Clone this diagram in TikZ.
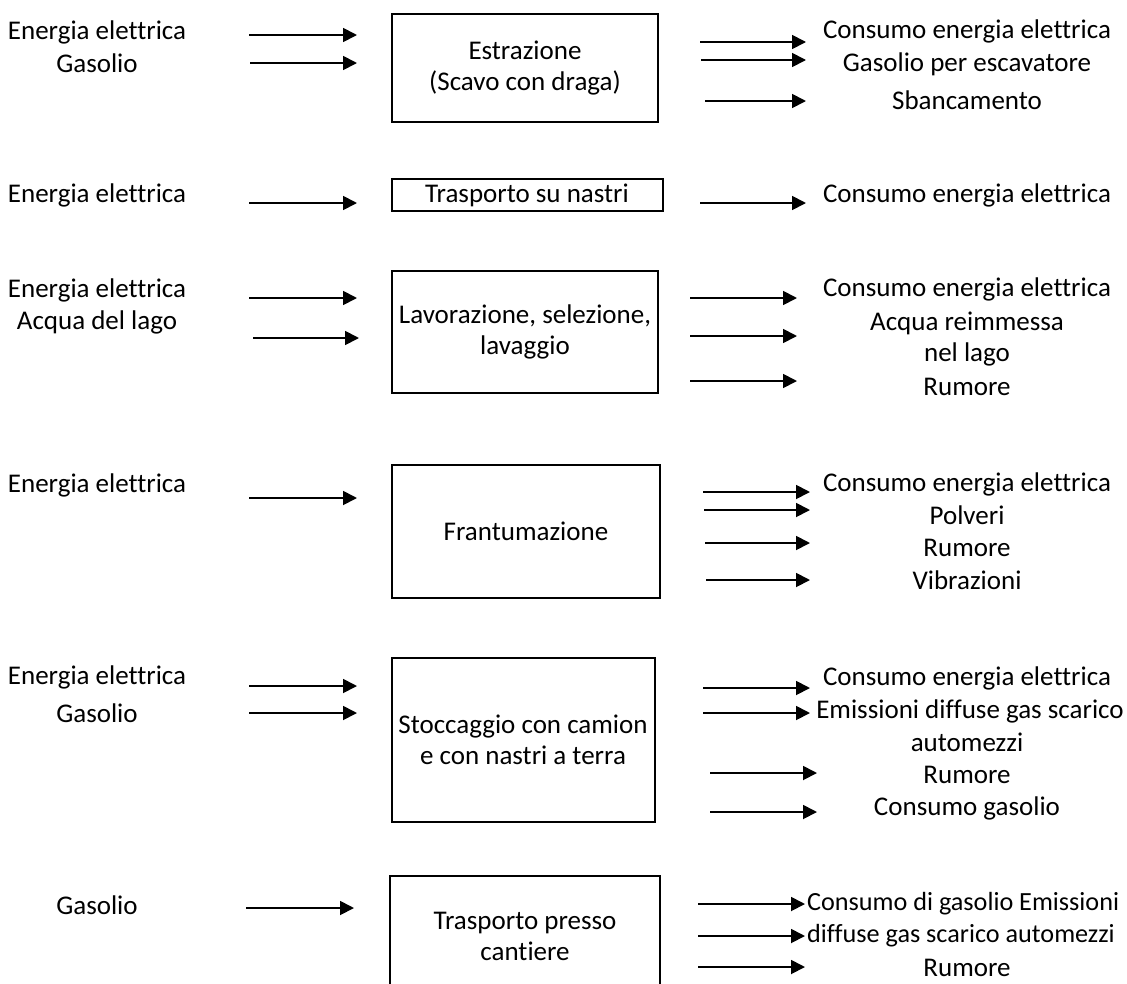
\documentclass[tikz,border=0pt]{standalone}
\usepackage{fontspec}
\setmainfont{Carlito}[Ligatures=NoCommon]
\usetikzlibrary{arrows.meta}
\tikzset{
  box/.style={draw, line width=2pt, align=center, inner sep=0pt},
  lbl/.style={inner sep=0pt},
  flow/.style={line width=1.8pt, -{Triangle[length=14pt,width=14pt]}}
}
\begin{document}
\begin{tikzpicture}[x=1pt,y=-1pt,font=\fontsize{27}{31}\selectfont]
    \useasboundingbox (0,0) rectangle (1127,983);
    \clip (0,0) rectangle (1127,983);

    % Estrazione
    \node[lbl] (en1) at (97,32) {Energia elettrica};
    \node[lbl] (ga1) at (97,63) {Gasolio};
    \node[box, minimum width=266pt, minimum height=108pt] (estr) at (525,68) {Estrazione\\(Scavo con draga)};
    \node[lbl] (ce1) at (967,31) {Consumo energia elettrica};
    \node[lbl] (ge1) at (967,64) {Gasolio per escavatore};
    \node[lbl] (sb1) at (967,100) {Sbancamento};
    \foreach \y/\a/\b in {35/249/357, 63/250/357, 42/700/806, 60/701/806, 101/705/806}
    \draw[flow] (\a,\y) -- (\b,\y);

    % Trasporto su nastri
    \node[lbl] (en2) at (97,195) {Energia elettrica};
    \node[box, minimum width=271pt, minimum height=32pt] (nastri) at (527,195) {Trasporto su nastri};
    \node[lbl] (ce2) at (967,195) {Consumo energia elettrica};
    \foreach \y/\a/\b in {203/249/357, 203/700/806}
    \draw[flow] (\a,\y) -- (\b,\y);

    % Lavorazione
    \node[lbl] (en3) at (97,290) {Energia elettrica};
    \node[lbl] (ac3) at (97,322) {Acqua del lago};
    \node[box, minimum width=266pt, minimum height=122pt] (lav) at (525,332) {Lavorazione, selezione,\\lavaggio};
    \node[lbl] (ce3) at (967,289) {Consumo energia elettrica};
    \node[lbl] (ar3) at (967,323) {Acqua reimmessa};
    \node[lbl] (nl3) at (967,354) {nel lago};
    \node[lbl] (ru3) at (967,387) {Rumore};
    \foreach \y/\a/\b in {298/249/357, 338/253/359, 298/690/797, 336/690/797, 381/690/797}
    \draw[flow] (\a,\y) -- (\b,\y);

    % Frantumazione
    \node[lbl] (en4) at (97,485) {Energia elettrica};
    \node[box, minimum width=268pt, minimum height=133pt] (frant) at (526,531) {Frantumazione};
    \node[lbl] (ce4) at (967,484) {Consumo energia elettrica};
    \node[lbl] (po4) at (967,515) {Polveri};
    \node[lbl] (ru4) at (967,548) {Rumore};
    \node[lbl] (vi4) at (967,580) {Vibrazioni};
    \foreach \y/\a/\b in {498/249/357, 492/703/810, 510/704/810, 543/705/810, 580/706/810}
    \draw[flow] (\a,\y) -- (\b,\y);

    % Stoccaggio
    \node[lbl] (en5) at (97,677) {Energia elettrica};
    \node[lbl] (ga5) at (97,713) {Gasolio};
    \node[box, minimum width=263pt, minimum height=164pt] (stocc) at (523,740) {Stoccaggio con camion\\e con nastri a terra};
    \node[lbl] (ce5) at (967,678) {Consumo energia elettrica};
    \node[lbl] (em5) at (970,711) {Emissioni diffuse gas scarico};
    \node[lbl] (au5) at (967,742) {automezzi};
    \node[lbl] (ru5) at (967,775) {Rumore};
    \node[lbl] (cg5) at (967,808) {Consumo gasolio};
    \foreach \y/\a/\b in {686/249/357, 713/249/357, 688/703/810, 713/703/810, 773/710/817, 812/710/817}
    \draw[flow] (\a,\y) -- (\b,\y);

    % Trasporto presso cantiere
    \node[lbl] (ga6) at (97,905) {Gasolio};
    \node[box, minimum width=270pt, minimum height=120pt] (cant) at (525,936) {Trasporto presso\\cantiere};
    \node[lbl, anchor=west, font=\fontsize{26.2}{31}\selectfont] (cg6) at (807,904) {Consumo di gasolio Emissioni};
    \node[lbl, anchor=west, font=\fontsize{26.2}{31}\selectfont] (df6) at (807,936) {diffuse gas scarico automezzi};
    \node[lbl] (ru6) at (967,968) {Rumore};
    \foreach \y/\a/\b in {908/246/354, 904/698/805, 936/698/805, 967/698/805}
    \draw[flow] (\a,\y) -- (\b,\y);
\end{tikzpicture}
\end{document}
